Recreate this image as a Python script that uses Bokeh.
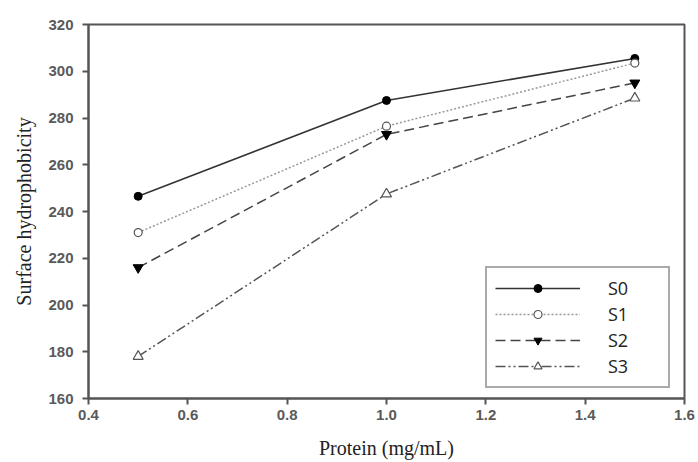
from bokeh.plotting import figure
from bokeh.models import Legend, LegendItem, Range1d, FixedTicker
from bokeh.embed import file_html
from bokeh.resources import INLINE

protein = [0.5, 1.0, 1.5]
s0 = [246.5, 287.5, 305.5]
s1 = [231.0, 276.5, 303.5]
s2 = [216.0, 273.0, 295.0]
s3 = [178.0, 247.5, 288.5]
series_names = ["S0", "S1", "S2", "S3"]
x_ticks = [0.4, 0.6, 0.8, 1.0, 1.2, 1.4, 1.6]
y_ticks = [160, 180, 200, 220, 240, 260, 280, 300, 320]

p = figure(width=698, height=462, output_backend="svg", toolbar_location=None,
           x_range=Range1d(0.4, 1.6), y_range=Range1d(160, 320),
           min_border_left=88, min_border_right=14, min_border_top=24, min_border_bottom=64)
p.grid.visible = False
p.background_fill_color = "white"
p.border_fill_color = "white"
p.outline_line_color = "#555555"
p.outline_line_width = 2

p.xaxis.ticker = FixedTicker(ticks=x_ticks)
p.yaxis.ticker = FixedTicker(ticks=y_ticks)
p.xaxis.major_label_overrides = {t: f"{t:.1f}" for t in x_ticks}
for ax in (p.xaxis, p.yaxis):
    ax.axis_line_color = "#555555"
    ax.axis_line_width = 2
    ax.major_tick_line_color = "#555555"
    ax.major_tick_line_width = 2
    ax.major_tick_out = 6
    ax.major_tick_in = 0
    ax.minor_tick_line_color = None
    ax.major_label_text_font = "Liberation Sans"
    ax.major_label_text_font_size = "15px"
    ax.major_label_text_color = "#5a5a5a"
    ax.major_label_text_font_style = "bold"
    ax.axis_label_text_font = "Liberation Serif"
    ax.axis_label_text_font_size = "20px"
    ax.axis_label_text_font_style = "normal"
    ax.axis_label_text_color = "#222222"
p.xaxis.axis_label = "Protein (mg/mL)"
p.yaxis.axis_label = "Surface hydrophobicity"
p.xaxis.major_label_standoff = 5
p.yaxis.major_label_standoff = 9
p.xaxis.axis_label_standoff = 14
p.yaxis.axis_label_standoff = 10

lc = "#333333"
l0 = p.line(protein, s0, line_color=lc, line_width=1.5)
m0 = p.scatter(protein, s0, marker="circle", size=8, fill_color="black", line_color="black")
l1 = p.line(protein, s1, line_color="#999999", line_width=1.5, line_dash="2 2")
m1 = p.scatter(protein, s1, marker="circle", size=8, fill_color="white", line_color="#555555", line_width=1.2)
l2 = p.line(protein, s2, line_color="#444444", line_width=1.5, line_dash="10 5")
m2 = p.scatter(protein, s2, marker="inverted_triangle", size=10, fill_color="black", line_color="black")
l3 = p.line(protein, s3, line_color="#555555", line_width=1.5, line_dash="10 3 2 3 2 3")
m3 = p.scatter(protein, s3, marker="triangle", size=10, fill_color="white", line_color="#555555", line_width=1.2)

legend = Legend(items=[LegendItem(label=series_names[0], renderers=[l0, m0]),
                       LegendItem(label=series_names[1], renderers=[l1, m1]),
                       LegendItem(label=series_names[2], renderers=[l2, m2]),
                       LegendItem(label=series_names[3], renderers=[l3, m3])],
                location=(397, 10))
legend.margin = 0
legend.padding = 8
legend.spacing = 2
legend.glyph_width = 85
legend.glyph_height = 20
legend.label_height = 20
legend.label_standoff = 28
legend.label_width = 52
legend.label_text_font = "Open Sans"
legend.label_text_font_size = "18px"
legend.label_text_color = "#222222"
legend.border_line_color = "#555555"
legend.border_line_width = 2
legend.background_fill_color = "white"
legend.background_fill_alpha = 1
p.add_layout(legend, "center")

open("out.html", "w").write(file_html(p, INLINE))
